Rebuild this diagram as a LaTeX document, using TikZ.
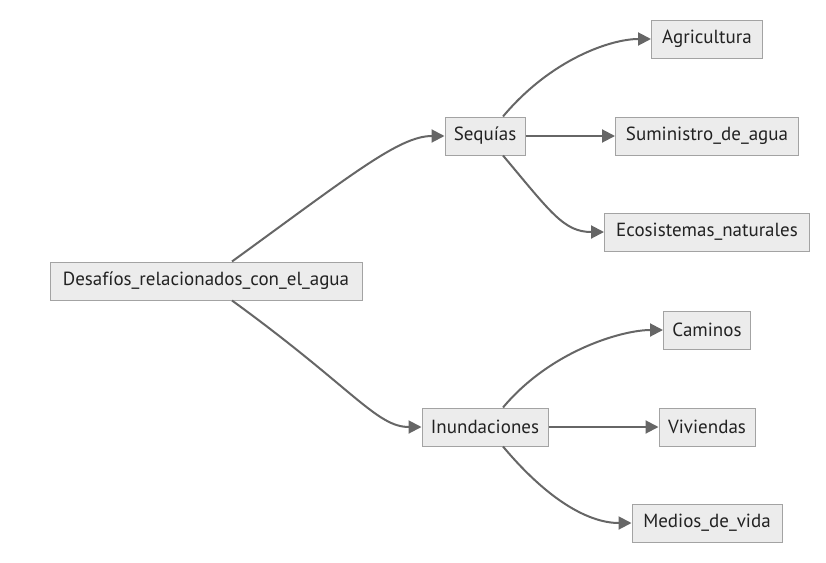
\documentclass[tikz,border=0pt]{standalone}
\usepackage{fontspec}
\setmainfont{PT Sans}
\usetikzlibrary{positioning, arrows.meta}
\definecolor{boxfill}{HTML}{ECECEC}
\definecolor{boxline}{HTML}{A3A3A3}
\definecolor{edgegray}{HTML}{666666}
\definecolor{textgray}{HTML}{222222}
\tikzset{
    box/.style={draw=boxline, fill=boxfill, line width=1pt, minimum height=38pt,
        inner xsep=3pt, text=textgray, font=\fontsize{19}{21}\selectfont},
    flow/.style={draw=edgegray, line width=2pt, -{Triangle[length=13pt, width=13pt]}},
}

\begin{document}
\begin{tikzpicture}[x=1pt, y=1pt, node distance=222pt, on grid]
    \useasboundingbox (0,0) rectangle (826,-562);
    \node[box, minimum width=312pt] (desafios) at (206,-281) {Desafíos\_relacionados\_con\_el\_agua};
    \node[box, minimum width=80pt, above right=145pt and 279pt of desafios] (sequias) {Sequías};
    \node[box, minimum width=126pt, below right=146pt and 279pt of desafios] (inundaciones) {Inundaciones};

    \node[box, minimum width=111pt, above right=97pt and 222pt of sequias] (agricultura) {Agricultura};
    \node[box, minimum width=183pt, right=of sequias] (suministro) {Suministro\_de\_agua};
    \node[box, minimum width=205pt, below right=96pt and 222pt of sequias] (ecosistemas) {Ecosistemas\_naturales};

    \node[box, minimum width=87pt, above right=97pt and 222pt of inundaciones] (caminos) {Caminos};
    \node[box, minimum width=96pt, right=of inundaciones] (viviendas) {Viviendas};
    \node[box, minimum width=150pt, below right=96pt and 222pt of inundaciones] (medios) {Medios\_de\_vida};

    \draw[flow] ([xshift=26pt]desafios.north) .. controls +(36:150pt) and +(-45pt,0) .. (sequias.west);
    \draw[flow] ([xshift=26pt]desafios.south) .. controls +(-36:150pt) and +(-45pt,0) .. (inundaciones.west);

    \draw[flow] ([xshift=18pt]sequias.north) .. controls +(50:75pt) and +(-40pt,0) .. (agricultura.west);
    \draw[flow] (sequias) -- (suministro);
    \draw[flow] ([xshift=18pt]sequias.south) .. controls +(-50:75pt) and +(-40pt,0) .. (ecosistemas.west);

    \draw[flow] ([xshift=18pt]inundaciones.north) .. controls +(50:75pt) and +(-40pt,0) .. (caminos.west);
    \draw[flow] (inundaciones) -- (viviendas);
    \draw[flow] ([xshift=18pt]inundaciones.south) .. controls +(-50:75pt) and +(-40pt,0) .. (medios.west);
\end{tikzpicture}
\end{document}
